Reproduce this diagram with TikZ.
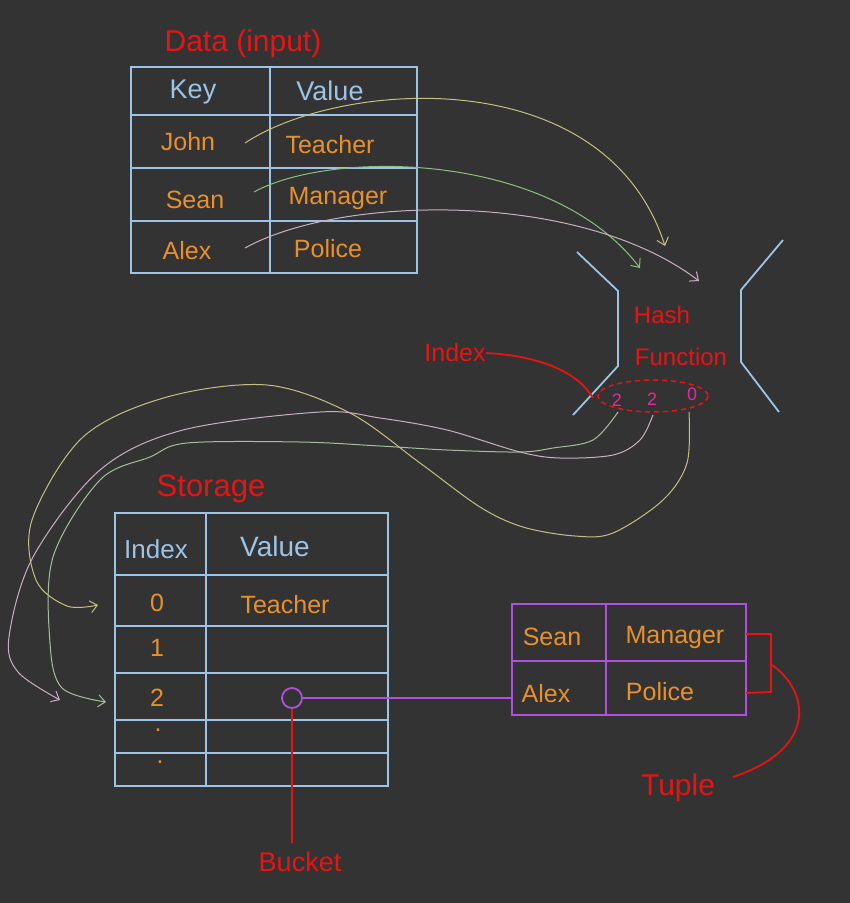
\documentclass[tikz,border=0pt]{standalone}
\usepackage{fontspec}
\setmainfont{Liberation Sans}
\usetikzlibrary{arrows.meta}
\definecolor{bg}{HTML}{333333}
\definecolor{tblue}{HTML}{9CC4E6}
\definecolor{torange}{HTML}{E8912C}
\definecolor{tred}{HTML}{E81414}
\definecolor{tmag}{HTML}{E42A9E}
\definecolor{tpurple}{HTML}{B050E0}
\definecolor{cyel}{HTML}{C4C084}
\definecolor{cgreen}{HTML}{8CC07C}
\definecolor{cpink}{HTML}{C8B0C4}
\definecolor{cgray}{HTML}{A8BCA0}
\tikzset{
  tbl/.style={draw=tblue, line width=1.8pt},
  ptbl/.style={draw=tpurple, line width=1.8pt},
  hdr/.style={text=tblue, font=\fontsize{27}{29}\selectfont, inner sep=0pt},
  val/.style={text=torange, font=\fontsize{25}{27}\selectfont, inner sep=0pt},
  lbl/.style={text=tred, inner sep=0pt},
  num/.style={text=tmag, font=\fontsize{18}{20}\selectfont, inner sep=0pt},
  flow/.style={line width=1pt, -{Straight Barb[length=7pt,width=12pt]}},
  redline/.style={draw=tred, line width=1.8pt},
}
\begin{document}
\begin{tikzpicture}[x=1pt,y=-1pt]
\fill[bg] (0,0) rectangle (850,903);
\useasboundingbox (0,0) rectangle (850,903);

% ---------- Data table ----------
\node[lbl, font=\fontsize{30}{32}\selectfont] (datatitle) at (243,44) {Data (input)};
\draw[tbl] (131,67) rectangle (417,273);
\draw[tbl] (270,67) -- (270,273);
\foreach \yy in {115,168,221} \draw[tbl] (131,\yy) -- (417,\yy);
\node[hdr] (dkey) at (193,92) {Key};
\node[hdr] (dval) at (330,91) {Value};
\node[val] (john) at (188,142) {John};
\node[val] (teacher) at (330,145) {Teacher};
\node[val] (sean) at (195,200) {Sean};
\node[val] (manager) at (338,198) {Manager};
\node[val] (alex) at (187,251) {Alex};
\node[val] (police) at (328,249) {Police};

% ---------- Hash function ----------
\draw[tbl] (577,252) -- (618,291) -- (618,366) -- (573,415);
\draw[tbl] (783,240) -- (741,290) -- (741,362) -- (779,412);
\node[lbl, font=\fontsize{24}{26}\selectfont] (hash) at (662,315) {Hash};
\node[lbl, font=\fontsize{24}{26}\selectfont] (func) at (681,357) {Function};
\draw[tred, line width=1.5pt, dash pattern=on 5pt off 4pt] (653,396) ellipse [x radius=55, y radius=16];
\node[num] (n1) at (617,400) {2};
\node[num] (n2) at (652,399) {2};
\node[num] (n3) at (692,394) {0};

\coordinate (jstart) at (245,143);
\coordinate (sstart) at (254,192);
\coordinate (astart) at (245,248);
\coordinate (hin1) at (665,246);
\coordinate (hin2) at (640,268);
\coordinate (hin3) at (699,281);
\draw[flow, cyel] (jstart) .. controls (340,80) and (605,60) .. (hin1);
\draw[flow, cgreen] (sstart) .. controls (330,150) and (550,150) .. (hin2);
\draw[flow, cpink] (astart) .. controls (340,195) and (580,190) .. (hin3);

% Index label
\node[lbl, font=\fontsize{25}{27}\selectfont] (idxlbl) at (455,353) {Index};
\coordinate (idxend) at (593,398);
\draw[redline] (idxlbl.east) .. controls (545,356) and (580,375) .. (idxend);

% ---------- Storage table ----------
\node[lbl, font=\fontsize{31}{33}\selectfont] (stitle) at (211,489) {Storage};
\draw[tbl] (115,513) rectangle (388,786);
\draw[tbl] (206,513) -- (206,786);
\foreach \yy in {575,626,673,720,753} \draw[tbl] (115,\yy) -- (388,\yy);
\node[hdr, font=\fontsize{26}{28}\selectfont] (sidx) at (156,549) {Index};
\node[hdr, font=\fontsize{28}{30}\selectfont] (sval) at (275,546) {Value};
\node[val] (r0) at (157,603) {0};
\node[val] (steacher) at (285,605) {Teacher};
\node[val] (r1) at (157,648) {1};
\node[val] (r2) at (157,698) {2};
\node[val] (r3) at (158,730) {.};
\node[val] (r4) at (160,762) {.};

\coordinate (s0) at (98,605);
\coordinate (s2a) at (60,700);
\coordinate (s2b) at (106,702);
\coordinate (h1) at (618,412);
\coordinate (h2) at (653,415);
\coordinate (h3) at (689,412);

\draw[flow, cyel] plot[smooth, tension=0.55] coordinates {(h3) (687,463) (663,500) (613,533) (575,536) (523,527) (480,507) (420,463) (350,413) (267,385) (167,397) (83,437) (32,520) (36,580) (67,606) (s0)};
\draw[flow, cpink] plot[smooth, tension=0.55] coordinates {(h2) (640,440) (613,455) (560,458) (520,452) (447,430) (380,418) (320,412) (183,430) (100,470) (33,557) (9,637) (18,672) (s2a)};
\draw[flow, cgray] plot[smooth, tension=0.55] coordinates {(h1) (593,440) (553,448) (520,452) (447,450) (380,446) (300,442) (187,443) (150,457) (100,480) (53,557) (50,643) (62,688) (s2b)};

% ---------- Bucket ----------
\node[draw=tpurple, line width=1.8pt, circle, minimum size=20pt, inner sep=0pt] (bucket) at (292,698) {};
\node[lbl, font=\fontsize{27}{29}\selectfont] (bucketlbl) at (300,862) {Bucket};
\coordinate (bucketend) at (292,843);
\draw[redline] (bucket.south) -- (bucketend);

% ---------- Tuple table ----------
\draw[ptbl] (512,604) rectangle (746,715);
\draw[ptbl] (606,604) -- (606,715);
\draw[ptbl] (512,661) -- (746,661);
\node[val] (tsean) at (552,637) {Sean};
\node[val] (tmanager) at (675,637) {Manager};
\node[val] (talex) at (546,694) {Alex};
\node[val] (tpolice) at (660,692) {Police};
\coordinate (tleft) at (512,698);
\draw[ptbl] (bucket.east) -- (tleft);

\draw[redline] (746,634) -- (771,634) -- (771,692) -- (746,693);
\coordinate (brk) at (772,665);
\node[lbl, font=\fontsize{30}{32}\selectfont] (tuplelbl) at (678,788) {Tuple};
\draw[redline] (brk) .. controls (808,690) and (820,748) .. (733,777);
\end{tikzpicture}
\end{document}
